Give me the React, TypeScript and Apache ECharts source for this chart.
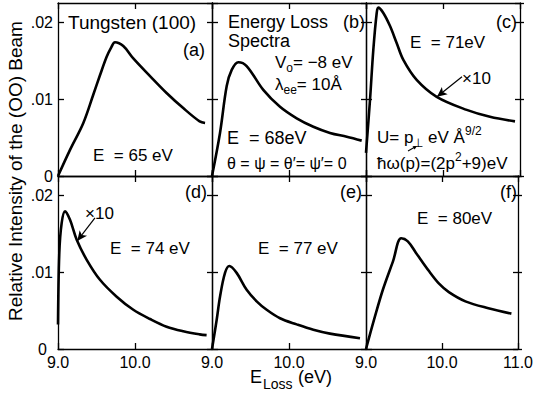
import React, { useEffect, useRef } from 'react';
import * as echarts from 'echarts';

const FONT = 'Liberation Sans';

// x ticks / y ticks
const xMin = 9.0;
const xMax = 11.0;
const xStep = 1.0;
const yMin = 0;
const yMax = 0.0225;
const yStep = 0.01;

// (a) E = 65 eV
const lossA = [9.0, 9.156, 9.329, 9.459, 9.545, 9.632, 9.69, 9.74, 9.848, 9.978, 10.195, 10.41, 10.63, 10.84, 10.91];
const intA = [0, 0.0034, 0.0069, 0.0106, 0.0131, 0.0155, 0.0167, 0.0174, 0.0169, 0.0153, 0.013, 0.0108, 0.0088, 0.0071, 0.0069];
// (b) E = 68 eV
const lossB = [9.0, 9.104, 9.191, 9.256, 9.342, 9.45, 9.666, 9.883, 10.1, 10.316, 10.532, 10.75, 10.944];
const intB = [0, 0.0056, 0.0117, 0.0138, 0.0148, 0.0143, 0.0112, 0.009, 0.0075, 0.0064, 0.0056, 0.0051, 0.0046];
// (c) E = 71 eV (x10)
const lossC = [9.0, 9.052, 9.095, 9.139, 9.16, 9.225, 9.312, 9.398, 9.485, 9.658, 9.918, 10.308, 10.61, 10.935];
const intC = [0.003, 0.0099, 0.0164, 0.0212, 0.0219, 0.0212, 0.0195, 0.0173, 0.0151, 0.0125, 0.0103, 0.0086, 0.0077, 0.0071];
// (d) E = 74 eV (x10)
const lossD = [9.0, 9.017, 9.048, 9.091, 9.156, 9.243, 9.373, 9.545, 9.762, 9.978, 10.195, 10.41, 10.627, 10.84, 10.93];
const intD = [0.0032, 0.0125, 0.0164, 0.0179, 0.0168, 0.0142, 0.0116, 0.009, 0.0068, 0.0051, 0.0039, 0.0029, 0.0023, 0.0019, 0.0018];
// (e) E = 77 eV
const lossE = [9.0, 9.061, 9.104, 9.169, 9.225, 9.32, 9.45, 9.58, 9.71, 9.883, 10.1, 10.316, 10.532, 10.922];
const intE = [0, 0.0038, 0.0068, 0.0099, 0.0108, 0.0099, 0.0077, 0.0062, 0.0051, 0.004, 0.0032, 0.0025, 0.002, 0.0014];
// (f) E = 80 eV
const lossF = [9.0, 9.117, 9.225, 9.355, 9.463, 9.55, 9.658, 9.831, 9.961, 10.09, 10.308, 10.61, 10.913];
const intF = [0, 0.0042, 0.0078, 0.0114, 0.0144, 0.014, 0.0125, 0.0101, 0.0085, 0.0074, 0.0062, 0.0053, 0.0046];

const lossSets = [lossA, lossB, lossC, lossD, lossE, lossF];
const intSets = [intA, intB, intC, intD, intE, intF];

// annotation arrows (data coords) for the "x10" notes: [x1, y1, x2, y2]
const arrowC = [10.247, 0.0129, 9.922, 0.0103];
const arrowD = [9.48, 0.01705, 9.25, 0.01406];

const yTitle = 'Relative Intensity of the (OO) Beam';

const BLACK = '#000';
const LW = 1.3;

function fmtY(v: number) {
  if (Math.abs(v) < 1e-9) return '0';
  const n = Math.round(v * 100);
  return '.' + String(n).padStart(2, '0');
}

const txt = (text: string, x: number, y: number, size: number, align = 'left', rich?: any) => ({
  type: 'text',
  x,
  y,
  z: 100,
  style: {
    text,
    fontSize: size,
    fontFamily: FONT,
    fill: BLACK,
    align,
    verticalAlign: 'middle',
    textAlign: align,
    textVerticalAlign: 'middle',
    ...(rich ? { rich } : {}),
  },
});

const richSet = (size: number) => ({
  m: { fontSize: size, fontFamily: FONT, fill: BLACK, lineHeight: 24 },
  s: { fontSize: 12, fontFamily: FONT, fill: BLACK, lineHeight: 12, verticalAlign: 'bottom' },
  u: { fontSize: 12, fontFamily: FONT, fill: BLACK, lineHeight: 12, verticalAlign: 'top' },
});

export default function App() {
  const ref = useRef<HTMLDivElement>(null);
  useEffect(() => {
    if (!ref.current) return;
    const chart = echarts.init(ref.current, undefined, { renderer: 'svg' });
    const lefts = [58, 212, 366];
    const tops = [3, 176];
    const W = 154;
    const H = 173;
    const grids: any[] = [];
    const xAxes: any[] = [];
    const yAxes: any[] = [];
    const series: any[] = [];
    const line = { show: true, onZero: false, lineStyle: { color: BLACK, width: LW } };
    for (let i = 0; i < 6; i++) {
      const row = Math.floor(i / 3);
      const col = i % 3;
      grids.push({ left: lefts[col], top: tops[row], width: W, height: H });
      const bottomRow = row === 1;
      xAxes.push({
        type: 'value', gridIndex: i, min: xMin, max: xMax, interval: xStep, position: 'bottom',
        axisLine: line,
        axisTick: { show: true, inside: true, length: 6, lineStyle: { color: BLACK, width: LW } },
        axisLabel: {
          show: bottomRow, showMinLabel: true, showMaxLabel: col === 2,
          formatter: (v: number) => v.toFixed(1), color: BLACK, fontFamily: FONT, fontSize: 16, margin: 5,
        },
        splitLine: { show: false },
      });
      xAxes.push({
        type: 'value', gridIndex: i, min: xMin, max: xMax, interval: xStep, position: 'top',
        axisLine: line,
        axisTick: { show: true, inside: true, length: 6, lineStyle: { color: BLACK, width: LW } },
        axisLabel: { show: false },
        splitLine: { show: false },
      });
      yAxes.push({
        type: 'value', gridIndex: i, min: yMin, max: yMax, interval: yStep, position: 'left',
        axisLine: line,
        axisTick: { show: true, inside: true, length: 6, lineStyle: { color: BLACK, width: LW } },
        axisLabel: {
          show: col === 0, showMaxLabel: false,
          formatter: (v: number) => (bottomRow && Math.abs(v) < 1e-9 ? '{z|0}' : fmtY(v)),
          rich: { z: { fontFamily: FONT, fontSize: 16, color: BLACK, padding: [0, 6, 0, 0] } },
          color: BLACK, fontFamily: FONT, fontSize: 16, margin: 5,
        },
        splitLine: { show: false },
      });
      yAxes.push({
        type: 'value', gridIndex: i, min: yMin, max: yMax, interval: yStep, position: 'right',
        axisLine: line,
        axisTick: { show: true, inside: true, length: 5, lineStyle: { color: BLACK, width: LW } },
        axisLabel: { show: false },
        splitLine: { show: false },
      });
      const s: any = {
        type: 'line',
        xAxisIndex: i * 2,
        yAxisIndex: i * 2,
        data: lossSets[i].map((x, k) => [x, intSets[i][k]]),
        showSymbol: false,
        smooth: 0.35,
        lineStyle: { color: BLACK, width: 2.6 },
        itemStyle: { color: BLACK },
        z: 5,
      };
      const arr = i === 2 ? arrowC : i === 3 ? arrowD : null;
      if (arr) {
        s.markLine = {
          silent: true,
          symbol: ['none', 'arrow'],
          symbolSize: [7, 10],
          label: { show: false },
          lineStyle: { color: BLACK, width: 1.2, type: 'solid' },
          data: [[{ coord: [arr[0], arr[1]] }, { coord: [arr[2], arr[3]] }]],
        };
      }
      series.push(s);
    }
    // outer ticks on the right edge
    [2, 5].forEach((g) => {
      yAxes.push({
        type: 'value', gridIndex: g, min: yMin, max: yMax, interval: yStep, position: 'right',
        axisLine: { show: false },
        axisTick: { show: true, inside: false, length: 4, lineStyle: { color: BLACK, width: LW } },
        axisLabel: { show: false },
        splitLine: { show: false },
      });
    });

    const graphic: any[] = [
      {
        type: 'text', x: 15, y: 171, rotation: Math.PI / 2, z: 100,
        style: {
          text: yTitle, fontSize: 19, fontFamily: FONT, fill: BLACK,
          align: 'center', verticalAlign: 'middle', textAlign: 'center', textVerticalAlign: 'middle',
        },
      },
      txt('E', 250, 376.5, 18),
      txt('Loss', 263, 384, 14),
      txt('(eV)', 298, 376.5, 18),
      // (a)
      txt('Tungsten (100)', 68, 22, 19),
      txt('(a)', 205, 50, 18, 'right'),
      txt('E  = 65 eV', 93, 155, 17),
      // (b)
      txt('Energy Loss', 228, 22, 18),
      txt('Spectra', 228, 41, 18),
      txt('(b)', 365, 22, 18, 'right'),
      txt('{m|V}{s|o}{m|= −8 eV}', 275, 62, 17, 'left', richSet(17)),
      txt('{m|λ}{s|ee}{m|= 10Å}', 275, 84, 17, 'left', richSet(17)),
      txt('E  = 68eV', 227, 138, 18),
      txt('θ = ψ = θ′= ψ′= 0', 227, 163, 16),
      // (c)
      txt('(c)', 517, 22, 18, 'right'),
      txt('E  = 71eV', 410, 42, 17),
      txt('×10', 462, 78, 17),
      txt('{m|U= p}{s|⊥}{m| eV Å}{u|9/2}', 377, 137, 17, 'left', richSet(17)),
      txt('{m|ħω(p)=(2p}{u|2}{m|+9)eV}', 377, 163, 17, 'left', richSet(17)),
      // vector arrow over p
      { type: 'line', z: 100, shape: { x1: 408, y1: 151, x2: 415, y2: 147 }, style: { stroke: BLACK, lineWidth: 1.1 } },
      { type: 'polygon', z: 100, shape: { points: [[417, 146], [412.5, 146.3], [414.6, 149.6]] }, style: { fill: BLACK } },
      // (d)
      txt('(d)', 207, 192, 18, 'right'),
      txt('×10', 85, 213, 17),
      txt('E  = 74 eV', 110, 248, 17),
      // (e)
      txt('(e)', 362, 192, 18, 'right'),
      txt('E  = 77 eV', 258, 248, 17),
      // (f)
      txt('(f)', 517, 192, 18, 'right'),
      txt('E  = 80eV', 417, 218, 17),
    ];

    chart.setOption({
      animation: false,
      backgroundColor: '#fff',
      grid: grids,
      xAxis: xAxes,
      yAxis: yAxes,
      series,
      graphic,
    });
    return () => chart.dispose();
  }, []);
  return <div ref={ref} style={{ position: 'fixed', left: 0, top: 0, width: 536, height: 396 }} />;
}
